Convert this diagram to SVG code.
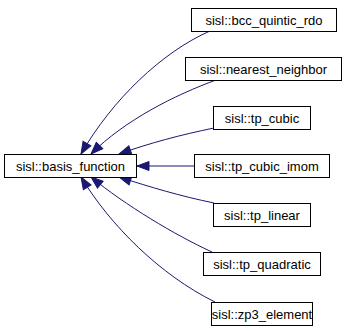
<svg xmlns="http://www.w3.org/2000/svg" width="344" height="332" viewBox="0 0 344 332">
  <style>
    .node rect { fill: #ffffff; stroke: #000000; stroke-width: 1; }
    .node text { font-family: "Liberation Sans", Arial, sans-serif; font-size: 13px; fill: #000000; text-anchor: middle; }
    .edge { fill: none; stroke: #191970; stroke-width: 1; marker-end: url(#arrow); }
  </style>
  <defs>
    <marker id="arrow" markerUnits="userSpaceOnUse" markerWidth="14" markerHeight="12" refX="13" refY="6" orient="auto">
      <path d="M1,1.5 L13,6 L1,10.5 z" fill="#191970" stroke="#191970" stroke-width="1"/>
    </marker>
  </defs>
  <rect width="344" height="332" fill="#ffffff"/>

  <g id="edges">
    <path class="edge" d="M210,31 C162,52 112,100 81,154"/>
    <path class="edge" d="M216,80 C175,95 125,120 91,154"/>
    <path class="edge" d="M214,128 C180,135 150,143 119,154"/>
    <path class="edge" d="M194,166 L137,166"/>
    <path class="edge" d="M214,203 C180,196 150,187 119,177"/>
    <path class="edge" d="M212,252 C175,235 125,205 91,177"/>
    <path class="edge" d="M215,302 C160,275 110,225 81,177"/>
  </g>

  <g id="node_basis_function" class="node">
    <rect x="4.5" y="154.5" width="132" height="23"/>
    <text x="70.5" y="170.5">sisl::basis_function</text>
  </g>
  <g id="node_bcc_quintic_rdo" class="node">
    <rect x="191.5" y="8.5" width="145" height="23"/>
    <text x="264" y="24.5">sisl::bcc_quintic_rdo</text>
  </g>
  <g id="node_nearest_neighbor" class="node">
    <rect x="185.5" y="57.5" width="156" height="23"/>
    <text x="263.5" y="73.5">sisl::nearest_neighbor</text>
  </g>
  <g id="node_tp_cubic" class="node">
    <rect x="213.5" y="106.5" width="97" height="23"/>
    <text x="262" y="122.5">sisl::tp_cubic</text>
  </g>
  <g id="node_tp_cubic_imom" class="node">
    <rect x="194.5" y="154.5" width="135" height="23"/>
    <text x="262" y="170.5">sisl::tp_cubic_imom</text>
  </g>
  <g id="node_tp_linear" class="node">
    <rect x="213.5" y="203.5" width="97" height="23"/>
    <text x="262" y="219.5">sisl::tp_linear</text>
  </g>
  <g id="node_tp_quadratic" class="node">
    <rect x="203.5" y="252.5" width="117" height="23"/>
    <text x="262" y="268.5">sisl::tp_quadratic</text>
  </g>
  <g id="node_zp3_element" class="node">
    <rect x="211.5" y="302.5" width="101" height="23"/>
    <text x="262" y="318.5">sisl::zp3_element</text>
  </g>
</svg>
